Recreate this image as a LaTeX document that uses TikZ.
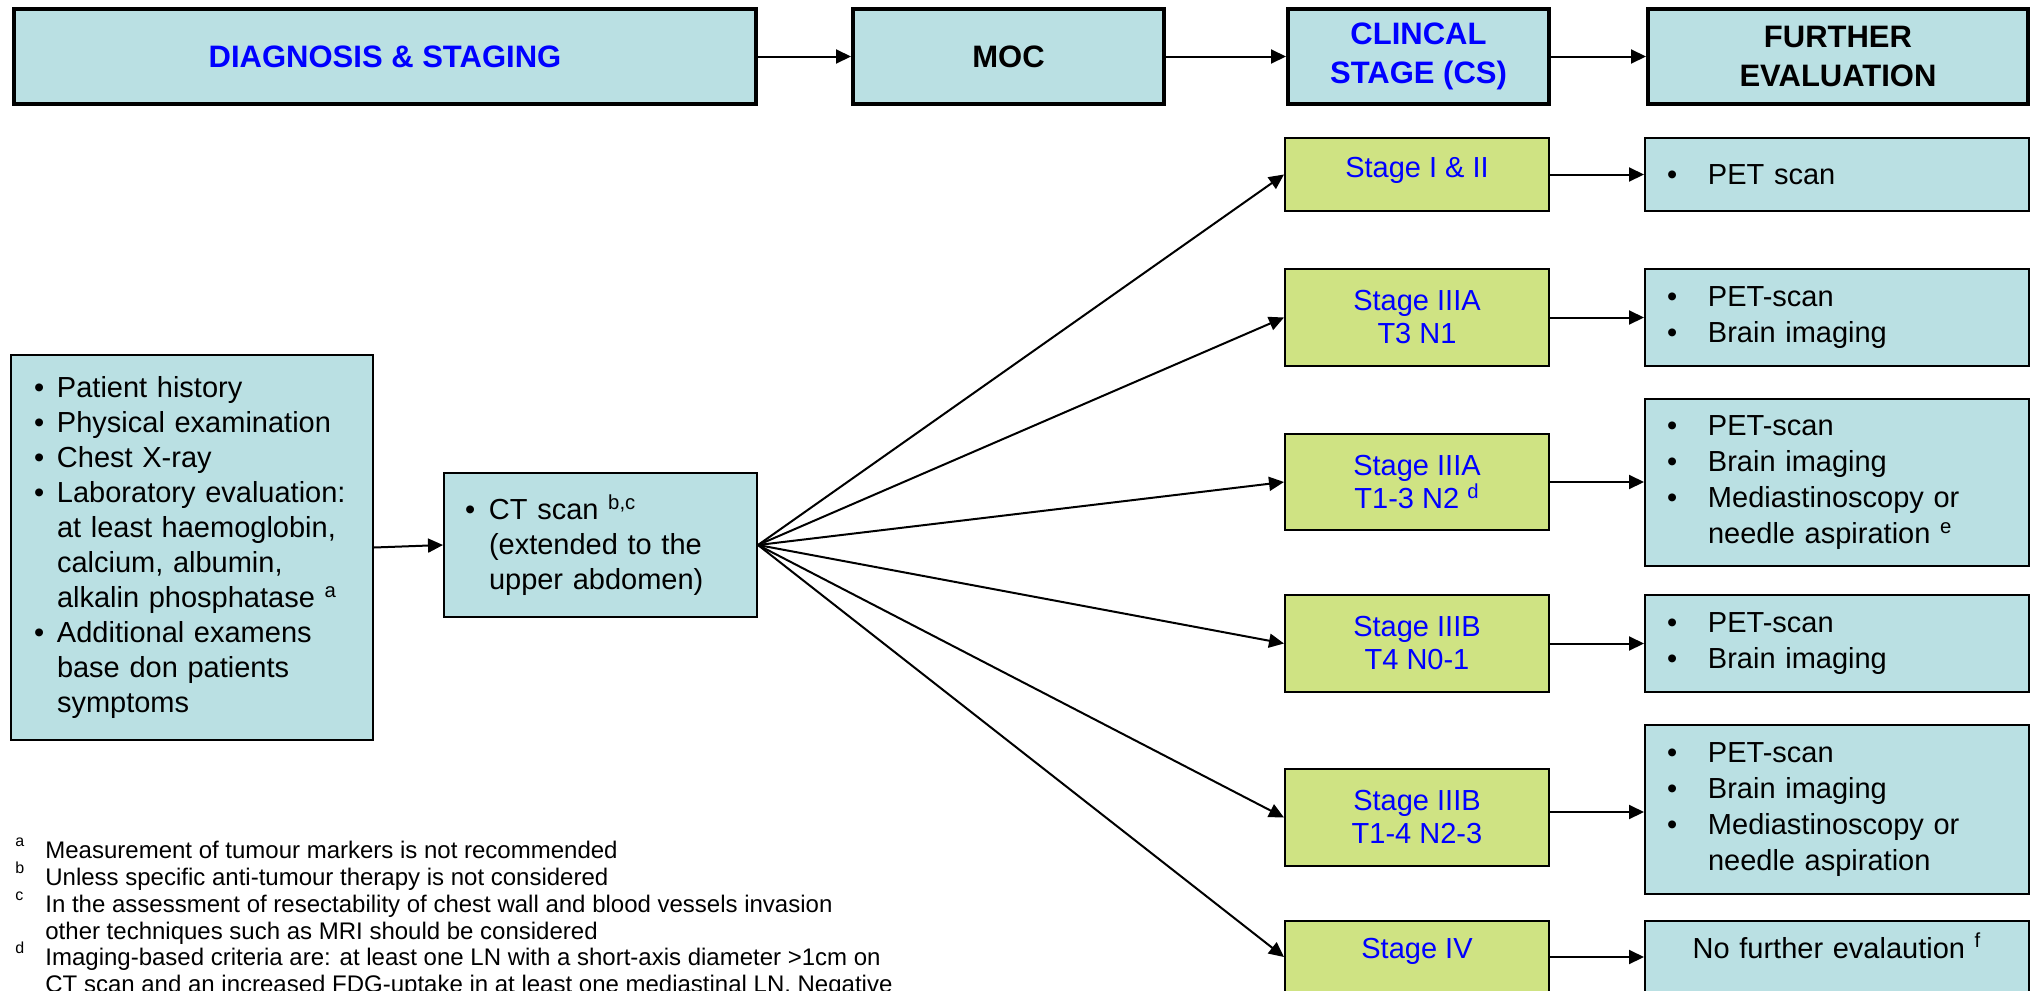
\documentclass[tikz,border=0pt]{standalone}
\usepackage{fontspec}
\setmainfont{Liberation Sans}
\usetikzlibrary{arrows.meta}

\definecolor{boxblue}{RGB}{186,224,227}
\definecolor{boxgreen}{RGB}{207,227,131}
\definecolor{txtblue}{RGB}{0,0,255}

% bullets and hanging indents for the lists inside the boxes
\newcommand\bulL{\makebox[11.5pt][l]{\textbullet}}
\newcommand\indL{\hspace*{11.5pt}}
\newcommand\bulC{\makebox[12pt][l]{\textbullet}}
\newcommand\indC{\hspace*{12pt}}
\newcommand\bulR{\makebox[20.5pt][l]{\textbullet}}
\newcommand\indR{\hspace*{20.5pt}}
% raised footnote letter in front of a note line
\newcommand\fnmark[1]{\makebox[15pt][l]{\raisebox{6pt}{\fontsize{8}{8}\selectfont #1}}}

\tikzset{
  basebox/.style={draw=black, line width=1pt, inner sep=0pt},
  head/.style={basebox, fill=boxblue, line width=2pt, align=center,
    minimum height=47.5pt, font=\bfseries\fontsize{15.5}{19.5}\selectfont},
  stagebox/.style={basebox, fill=boxgreen, text=txtblue, align=center,
    minimum width=132pt, font=\fontsize{14.5}{16.5}\selectfont},
  evalbox/.style={basebox, fill=boxblue, minimum width=192pt, inner xsep=11pt,
    text width=170pt, align=left, font=\fontsize{14.5}{18}\selectfont},
  listbox/.style={basebox, fill=boxblue, align=left, font=\fontsize{14.5}{17.5}\selectfont},
  note/.style={anchor=base west, inner sep=0pt, font=\fontsize{12}{13.4}\selectfont},
  arr/.style={-{Triangle[length=7.5pt,width=7pt]}, line width=1pt},
}

\begin{document}
\begin{tikzpicture}[x=0.5pt,y=-0.5pt]
\fill[white] (0,0) rectangle (2031,991);
\useasboundingbox (0,0) rectangle (2031,991);

% header row
\node[head, text=txtblue, minimum width=371pt] (hdiag) at (385,56.5) {DIAGNOSIS \& STAGING};
\node[head, minimum width=155.5pt] (hmoc) at (1008.5,56.5) {MOC};
\node[head, text=txtblue, minimum width=130.5pt] (hcs) at (1418.5,56.5) {CLINCAL\\STAGE (CS)};
\node[head, minimum width=190pt] (hfe) at (1838,56.5) {FURTHER\\EVALUATION};

\draw[arr] (hdiag.east) -- (hmoc.west);
\draw[arr] (hmoc.east) -- (hcs.west);
\draw[arr] (hcs.east) -- (hfe.west);

% initial work-up
\node[listbox, minimum width=181pt, minimum height=192.5pt, inner xsep=11.5pt, text width=158pt] (hist) at (192,547.5) {%
\bulL Patient history\\
\bulL Physical examination\\
\bulL Chest X-ray\\
\bulL Laboratory evaluation:\\
\indL at least haemoglobin,\\
\indL calcium, albumin,\\
\indL alkalin phosphatase \textsuperscript{a}\\
\bulL Additional examens\\
\indL base don patients\\
\indL symptoms};

\node[listbox, minimum width=156.5pt, minimum height=72pt, inner xsep=10.5pt, text width=135.5pt] (ct) at (600.5,545) {%
\bulC CT scan \textsuperscript{b,c}\\
\indC (extended to the\\
\indC upper abdomen)};

\draw[arr] (hist.east) -- (ct.west);

% clinical stages
\node[stagebox, minimum height=36.5pt, text height=10.6pt, text depth=7.7pt] (s1) at (1417,174.5) {Stage I \& II};
\node[stagebox, minimum height=48.5pt] (s2) at (1417,317.5) {Stage IIIA\\T3 N1};
\node[stagebox, minimum height=48pt] (s3) at (1417,482) {Stage IIIA\\T1-3 N2 \textsuperscript{d}};
\node[stagebox, minimum height=48.5pt] (s4) at (1417,643.5) {Stage IIIB\\T4 N0-1};
\node[stagebox, minimum height=48.5pt] (s5) at (1417,817.5) {Stage IIIB\\T1-4 N2-3};
\node[stagebox, minimum height=36pt, text height=10.6pt, text depth=9.2pt] (s6) at (1417,957) {Stage IV};

% further evaluation
\node[evalbox, minimum height=36.5pt] (f1) at (1837,174.5) {\bulR PET scan};
\node[evalbox, minimum height=48.5pt] (f2) at (1837,317.5) {\bulR PET-scan\\ \bulR Brain imaging};
\node[evalbox, minimum height=83.5pt] (f3) at (1837,482.5) {\bulR PET-scan\\ \bulR Brain imaging\\ \bulR Mediastinoscopy or\\ \indR needle aspiration \textsuperscript{e}};
\node[evalbox, minimum height=48.5pt] (f4) at (1837,643.5) {\bulR PET-scan\\ \bulR Brain imaging};
\node[evalbox, minimum height=84.5pt] (f5) at (1837,809.5) {\bulR PET-scan\\ \bulR Brain imaging\\ \bulR Mediastinoscopy or\\ \indR needle aspiration};
\node[evalbox, align=center, minimum height=36pt, text height=10.6pt, text depth=9.2pt] (f6) at (1837,957) {No further evalaution \textsuperscript{f}};

% fan from the CT scan to every stage
\foreach \s in {s1,s2,s3,s4,s5,s6}
  \draw[arr] (ct.east) -- (\s.west);

% stage to further evaluation
\foreach \i in {1,2,3,4,6}
  \draw[arr] (s\i.east) -- (s\i.east -| f\i.west);
\draw[arr] ([yshift=2.75pt]s5.east) -- ([yshift=2.75pt]s5.east -| f5.west);

% notes
\node[note] (n1) at (15,858) {\fnmark{a}Measurement of tumour markers is not recommended};
\node[note] (n2) at (15,885) {\fnmark{b}Unless specific anti-tumour therapy is not considered};
\node[note] (n3) at (15,912) {\fnmark{c}In the assessment of resectability of chest wall and blood vessels invasion};
\node[note] (n4) at (45,939) {other techniques such as MRI should be considered};
\node[note] (n5) at (15,965) {\fnmark{d}Imaging-based criteria are: at least one LN with a short-axis diameter >1cm on};
\node[note] (n6) at (45,992) {CT scan and an increased FDG-uptake in at least one mediastinal LN. Negative};
\end{tikzpicture}
\end{document}
